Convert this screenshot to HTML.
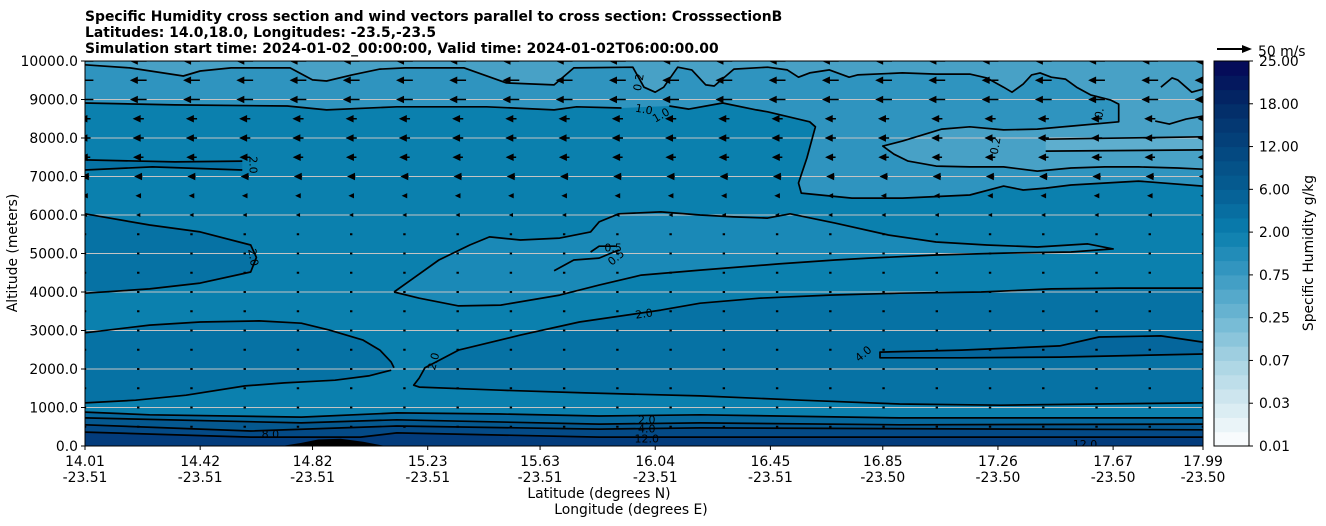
<!DOCTYPE html>
<html><head><meta charset="utf-8">
<style>
html,body{margin:0;padding:0;background:#fff;}
svg{display:block;font-family:"DejaVu Sans","Liberation Sans",sans-serif;}
</style></head>
<body>
<svg id="chart" width="1326" height="526" viewBox="0 0 1326 526" xmlns="http://www.w3.org/2000/svg">
<defs><clipPath id="plotclip"><rect x="85" y="61" width="1118" height="385"/></clipPath></defs>
<g font-size="13.9" font-weight="bold" fill="#000">
<text x="85" y="21">Specific Humidity cross section and wind vectors parallel to cross section: CrosssectionB</text>
<text x="85" y="37">Latitudes: 14.0,18.0, Longitudes: -23.5,-23.5</text>
<text x="85" y="53">Simulation start time: 2024-01-02_00:00:00, Valid time: 2024-01-02T06:00:00.00</text>
</g>
<g id="plot" clip-path="url(#plotclip)"></g>
<rect x="85" y="61" width="1118" height="385" fill="none" stroke="#000" stroke-width="1"/>
<g id="axes" font-size="13.9" fill="#000"></g>
<g id="cbar"></g>
<text x="17" y="253" transform="rotate(-90 17 253)" text-anchor="middle" font-size="13.9">Altitude (meters)</text>
<text x="599" y="498" text-anchor="middle" font-size="13.9">Latitude (degrees N)</text>
<text x="631" y="514" text-anchor="middle" font-size="13.9">Longitude (degrees E)</text>
<text x="1313" y="253" transform="rotate(-90 1313 253)" text-anchor="middle" font-size="13.9">Specific Humidity g/kg</text>
<g>
<path d="M1217,49 L1244,49" stroke="#000" stroke-width="2"/>
<path d="M1252,49 L1242,45 L1242,53 Z" fill="#000"/>
<text x="1258" y="56" font-size="13.9">50 m/s</text>
</g>
</svg>
<script>
// ---------- data ----------
const xTickLats = [14.01,14.42,14.82,15.23,15.63,16.04,16.45,16.85,17.26,17.67,17.99];
const xTickLons = ["-23.51","-23.51","-23.51","-23.51","-23.51","-23.51","-23.51","-23.50","-23.50","-23.50","-23.50"];
const yTicks = [0,1000,2000,3000,4000,5000,6000,7000,8000,9000,10000];
const cbarLevels = [0.01,0.03,0.07,0.25,0.75,2.00,6.00,12.00,18.00,25.00];
const cbarColors = ["#ffffff","#d4e9f0","#a7d3e3","#6fb7d3","#3a9ac2","#0a7eae","#055e93","#04457d","#032a66","#050656"];
const arrowRowAlts = [10,9.5,9,8.5,8,7.5,7,6.5,6,5.5,5,4.5,4,3.5,3,2.5,2,1.5,1,0.5];
const arrowRowSpeeds = [24,24,24,16,16,15,12,8,6,4,3,2,2,2,2,2,2,2,2,2];
const arrowColumnCount = 22;

const lineTop02 = [[14.01,9.9],[14.17,9.82],[14.36,9.61],[14.42,9.74],[14.53,9.82],[14.74,9.82],[14.82,9.51],[14.87,9.48],[14.96,9.64],[15.06,9.79],[15.15,9.82],[15.36,9.82],[15.51,9.43],[15.68,9.38],[15.75,9.82],[15.96,9.84],[16.0,9.32],[16.04,9.19],[16.07,9.32],[16.12,9.84],[16.17,9.77],[16.22,9.38],[16.25,9.35],[16.32,9.79],[16.44,9.84],[16.51,9.77],[16.55,9.58],[16.59,9.69],[16.66,9.77],[16.73,9.58],[16.76,9.64],[16.92,9.69],[17.04,9.66],[17.16,9.66],[17.22,9.56],[17.28,9.32],[17.31,9.19],[17.35,9.40],[17.38,9.64],[17.41,9.69],[17.45,9.58],[17.50,9.53],[17.54,9.32],[17.59,9.12],[17.66,8.99],[17.69,8.88],[17.69,8.42],[17.52,8.31],[17.40,8.23],[17.28,8.21],[17.16,8.29],[17.06,8.23],[16.92,7.92],[16.85,7.79],[16.89,7.58],[16.94,7.40],[17.04,7.27],[17.16,7.25],[17.28,7.25],[17.40,7.14],[17.52,7.22],[17.64,7.25],[17.76,7.25],[17.90,7.22],[17.99,7.19]];
const lineRightA = [[17.84,9.32],[17.88,9.56],[17.90,9.51],[17.95,9.19],[17.99,9.27]];
const lineRightB = [[17.82,8.44],[17.87,8.36],[17.93,8.49],[17.99,8.57]];
const lineStripTop = [[17.43,7.97],[17.99,8.03]];
const lineStripBot = [[17.43,7.66],[17.99,7.69]];
const lineOneLeft = [[14.01,8.91],[14.33,8.86],[14.73,8.83],[14.87,8.73],[15.12,8.81],[15.44,8.81],[15.68,8.73],[15.76,8.81],[15.92,8.78]];
const lineOneRight = [[16.09,8.83],[16.16,8.75],[16.28,8.91],[16.40,8.73],[16.44,8.68],[16.59,8.42],[16.61,8.29],[16.58,7.48],[16.55,6.83],[16.56,6.57],[16.74,6.44],[16.92,6.44],[17.16,6.52],[17.28,6.75],[17.35,6.65],[17.43,6.70],[17.52,6.78],[17.76,6.88],[17.99,6.75]];
const lineLeftPairTop = [[14.01,7.43],[14.33,7.38],[14.57,7.40]];
const lineLeftPairBot = [[14.01,7.17],[14.25,7.25],[14.57,7.17]];
const lineLeftLoop = [[14.01,6.03],[14.24,5.74],[14.42,5.56],[14.60,5.22],[14.62,4.9],[14.60,4.52],[14.42,4.23],[14.24,4.08],[14.01,3.97]];
const lineCentral = [[15.11,4.0],[15.17,4.31],[15.27,4.83],[15.38,5.22],[15.45,5.43],[15.56,5.35],[15.70,5.40],[15.81,5.56],[15.84,5.82],[15.91,6.03],[16.06,6.08],[16.20,6.00],[16.32,5.95],[16.44,5.92],[16.52,6.03],[16.68,5.79],[16.87,5.48],[17.04,5.30],[17.22,5.22],[17.40,5.17],[17.58,5.25],[17.67,5.12],[17.52,5.04],[17.28,5.01],[17.04,4.96],[16.80,4.88],[16.68,4.83],[16.48,4.73],[16.20,4.57],[15.99,4.44],[15.84,4.18],[15.70,3.92],[15.49,3.66],[15.34,3.64],[15.20,3.84],[15.11,4.0]];
const lineHalfA = [[15.68,4.55],[15.75,4.83],[15.84,4.88],[15.91,5.09]];
const lineHalfB = [[15.81,5.04],[15.84,5.19],[15.90,5.19]];
const lineA = [[14.01,2.94],[14.24,3.14],[14.42,3.22],[14.63,3.25],[14.78,3.19],[14.88,3.01],[15.0,2.75],[15.06,2.49],[15.10,2.18],[15.11,2.03]];
const lineB = [[14.01,1.12],[14.19,1.19],[14.37,1.32],[14.58,1.56],[14.72,1.64],[14.90,1.71],[15.02,1.82],[15.10,1.97]];
const lineCD = [[17.99,1.12],[17.62,1.09],[17.27,1.06],[16.91,1.09],[16.56,1.19],[16.20,1.30],[15.79,1.38],[15.49,1.45],[15.20,1.53],[15.18,1.58],[15.20,1.77],[15.22,2.03],[15.34,2.49],[15.56,2.88],[15.77,3.22],[16.06,3.53],[16.20,3.71],[16.41,3.84],[16.66,3.92],[16.91,3.97],[17.20,4.00],[17.45,4.08],[17.69,4.10],[17.99,4.10]];
const lineFour = [[17.99,2.70],[17.84,2.86],[17.62,2.83],[17.48,2.60],[17.13,2.49],[16.84,2.44],[16.84,2.29],[17.13,2.29],[17.48,2.31],[17.80,2.36],[17.99,2.39]];
const lineL1 = [[14.01,0.88],[14.24,0.81],[14.78,0.75],[15.12,0.86],[15.49,0.83],[15.84,0.78],[16.20,0.81],[16.91,0.73],[17.99,0.73]];
const lineL2 = [[14.01,0.73],[14.78,0.60],[15.12,0.68],[15.84,0.57],[16.20,0.60],[16.91,0.55],[17.99,0.57]];
const lineL3 = [[14.01,0.55],[14.60,0.39],[15.12,0.52],[15.84,0.44],[16.20,0.47],[17.99,0.42]];
const lineL4 = [[14.01,0.36],[14.60,0.23],[14.99,0.23],[15.12,0.34],[15.84,0.23],[17.99,0.23]];
const terrain = [[14.71,0],[14.78,0.08],[14.84,0.17],[14.92,0.19],[15.0,0.11],[15.08,0]];

// ---------- scales ----------
const X = lat => 85 + (lat - 14.01) / 3.98 * 1118;
const Y = km => 446 - km * 38.5;
const NS = "http://www.w3.org/2000/svg";
const plot = document.getElementById('plot');
const axes = document.getElementById('axes');
const cbar = document.getElementById('cbar');
function mk(tag, attrs, parent) {
  const e = document.createElementNS(NS, tag);
  for (const k in attrs) e.setAttribute(k, attrs[k]);
  parent.appendChild(e);
  return e;
}
const pts = arr => arr.map(p => X(p[0]).toFixed(1) + ',' + Y(p[1]).toFixed(1)).join(' ');

// ---------- fills ----------
function fillPoly(arr, color, name) {
  const e = mk('polygon', {points: pts(arr), fill: color}, plot);
  
  
}
const base = mk('rect', {x: 85, y: 61, width: 1118, height: 385, fill: '#0b80ae'}, plot);


fillPoly(lineOneLeft.concat(lineOneRight, [[18.1,6.75],[18.1,10.5],[13.9,10.5],[13.9,8.91]]), '#2f94bf', 'humidity-fill-upper');
fillPoly(lineTop02.concat([[18.1,7.19],[18.1,10.5],[13.9,10.5],[13.9,9.9]]), '#48a1c6', 'humidity-fill-top');
fillPoly(lineRightA.concat([[18.1,9.27],[18.1,8.57]], lineRightB.slice().reverse(), [[17.78,8.8]]), '#48a1c6', 'humidity-fill-right-patch');
fillPoly(lineStripTop.concat([[18.1,8.03],[18.1,7.69]], lineStripBot.slice().reverse()), '#5eaece', 'humidity-fill-right-strip');
fillPoly(lineLeftPairTop.concat(lineLeftPairBot.slice().reverse(), [[13.9,7.17],[13.9,7.43]]), '#0672a4', 'humidity-fill-left-strip');
fillPoly(lineLeftLoop.concat([[13.9,3.97],[13.9,6.03]]), '#0672a4', 'humidity-fill-left-loop');
fillPoly(lineCentral, '#1a89b7', 'humidity-fill-central');
fillPoly(lineA.concat(lineB.slice().reverse(), [[13.9,1.12],[13.9,2.94]]), '#0672a4', 'humidity-fill-lower-left');
fillPoly(lineCD.concat([[18.1,4.1],[18.1,1.12]]), '#0672a4', 'humidity-fill-lower-right');
fillPoly(lineFour, '#05669c', 'humidity-fill-four');
fillPoly(lineL1.concat([[18.1,0.73],[18.1,-0.5],[13.9,-0.5],[13.9,0.88]]), '#06679c', 'humidity-fill-band-1');
fillPoly(lineL2.concat([[18.1,0.57],[18.1,-0.5],[13.9,-0.5],[13.9,0.73]]), '#05588f', 'humidity-fill-band-2');
fillPoly(lineL3.concat([[18.1,0.42],[18.1,-0.5],[13.9,-0.5],[13.9,0.55]]), '#044a86', 'humidity-fill-band-3');
fillPoly(lineL4.concat([[18.1,0.23],[18.1,-0.5],[13.9,-0.5],[13.9,0.36]]), '#033c7c', 'humidity-fill-band-4');

// ---------- grid ----------
yTicks.forEach(v => {
  if (v === 0 || v === 10000) return;
  const g = mk('line', {x1: 85, x2: 1203, y1: Y(v/1000), y2: Y(v/1000), stroke: '#c4c4c4', 'stroke-width': 1}, plot);
  
  
});

// ---------- contour lines ----------
function cline(arr, name) {
  const e = mk('polyline', {points: pts(arr), fill: 'none', stroke: '#000', 'stroke-width': 1.7, 'stroke-linejoin': 'round'}, plot);
  
  
}
cline(lineTop02, 'contour-0.2-top');
cline(lineRightA, 'contour-0.2-right-a');
cline(lineRightB, 'contour-0.2-right-b');
cline(lineStripTop, 'contour-strip-top');
cline(lineStripBot, 'contour-strip-bottom');
cline(lineOneLeft, 'contour-1.0-left');
cline(lineOneRight, 'contour-1.0-right');
cline(lineLeftPairTop, 'contour-2.0-left-top');
cline(lineLeftPairBot, 'contour-2.0-left-bottom');
cline(lineLeftLoop, 'contour-2.0-left-loop');
cline(lineCentral, 'contour-central');
cline(lineHalfA, 'contour-0.5-a');
cline(lineHalfB, 'contour-0.5-b');
cline(lineA, 'contour-2.0-a');
cline(lineB, 'contour-2.0-b');
cline(lineCD, 'contour-2.0-cd');
cline(lineFour, 'contour-4.0');
cline(lineL1, 'contour-2.0-low');
cline(lineL2, 'contour-4.0-low');
cline(lineL3, 'contour-8.0-low');
cline(lineL4, 'contour-12.0-low');
const ter = mk('polygon', {points: pts(terrain), fill: '#000'}, plot);



// ---------- contour labels ----------
const clabels = [["0.2",15.98,9.45,-80],["1.0",16.0,8.75,10],["1.0",16.06,8.6,-30],["2.0",14.61,7.3,90],["2.0",14.61,4.9,80],["0.5",15.89,5.15,0],["0.5",15.9,4.9,-40],["2.0",16.0,3.44,-8],["2.0",15.25,2.2,-75],["4.0",16.78,2.4,-40],["0.2",17.25,7.8,-80],["0.",17.62,8.65,-80],["2.0",16.01,0.69,0],["4.0",16.01,0.46,0],["8.0",14.67,0.31,0],["12.0",16.01,0.2,0],["12.0",17.57,0.05,0]];
clabels.forEach(l => {
  const x = X(l[1]), y = Y(l[2]);
  const t = mk('text', {x: x, y: y + 4, 'text-anchor': 'middle', 'font-size': 11, fill: '#000', transform: 'rotate(' + l[3] + ' ' + x + ' ' + y + ')'}, plot);
  t.textContent = l[0];
  
  
});

// ---------- wind arrows ----------
for (let c = 0; c < arrowColumnCount; c++) {
  const lat = 14.01 + c * 3.98 / (arrowColumnCount - 1);
  arrowRowAlts.forEach((alt, r) => {
    const L = arrowRowSpeeds[r] * 0.7;
    const cx = X(lat), cy = Y(alt);
    let d;
    if (L <= 3) {
      d = 'M' + (cx-1.2) + ',' + (cy-1) + 'h2.4v2h-2.4Z';
    } else {
      const tip = cx - L/2, tail = cx + L/2;
      const h = Math.min(L, 8), w = 3.8 * Math.min(1, L/8);
      d = 'M' + tip + ',' + cy + ' L' + (tip+h) + ',' + (cy-w) + ' L' + (tip+h) + ',' + (cy-0.8) + ' L' + tail + ',' + (cy-0.8) + ' L' + tail + ',' + (cy+0.8) + ' L' + (tip+h) + ',' + (cy+0.8) + ' L' + (tip+h) + ',' + (cy+w) + ' Z';
    }
    const a = mk('path', {d: d, fill: '#000'}, plot);
    
    
  });
}

// ---------- axes ----------
yTicks.forEach(v => {
  const y = Y(v/1000);
  mk('line', {x1: 81, x2: 85, y1: y, y2: y, stroke: '#000'}, axes);
  const t = mk('text', {x: 78, y: y + 5, 'text-anchor': 'end'}, axes);
  t.textContent = v.toFixed(1);
  
  
});
xTickLats.forEach((lat, i) => {
  const x = X(lat);
  mk('line', {x1: x, x2: x, y1: 446, y2: 450, stroke: '#000'}, axes);
  const t = mk('text', {x: x, y: 466, 'text-anchor': 'middle'}, axes);
  t.textContent = lat.toFixed(2);
  
  
  const t2 = mk('text', {x: x, y: 482, 'text-anchor': 'middle'}, axes);
  t2.textContent = xTickLons[i];
  
  
});

// ---------- colorbar ----------
function hex(c){return [1,3,5].map(i=>parseInt(c.substr(i,2),16));}
const cbTop = 61, cbBot = 446, cbX = 1214, cbW = 35;
const nb = (cbarLevels.length - 1) * 3;
const bandH = (cbBot - cbTop) / nb;
for (let b = 0; b < nb; b++) {
  const pos = (b + 0.5) / 3;
  const i = Math.min(Math.floor(pos), cbarColors.length - 2), f = pos - i;
  const c1 = hex(cbarColors[i]), c2 = hex(cbarColors[i+1]);
  const col = 'rgb(' + c1.map((v,k)=>Math.round(v + (c2[k]-v)*f)).join(',') + ')';
  const r = mk('rect', {x: cbX, y: cbBot - (b+1)*bandH, width: cbW, height: bandH + 0.5, fill: col}, cbar);
  
  
}
mk('rect', {x: cbX, y: cbTop, width: cbW, height: cbBot - cbTop, fill: 'none', stroke: '#000'}, cbar);
cbarLevels.forEach((v, i) => {
  const y = cbBot - i * (cbBot - cbTop) / (cbarLevels.length - 1);
  mk('line', {x1: cbX + cbW, x2: cbX + cbW + 4, y1: y, y2: y, stroke: '#000'}, cbar);
  const t = mk('text', {x: 1259, y: y + 5, 'font-size': 13.9}, cbar);
  t.textContent = v.toFixed(2);
  
  
});
</script>
</body></html>
